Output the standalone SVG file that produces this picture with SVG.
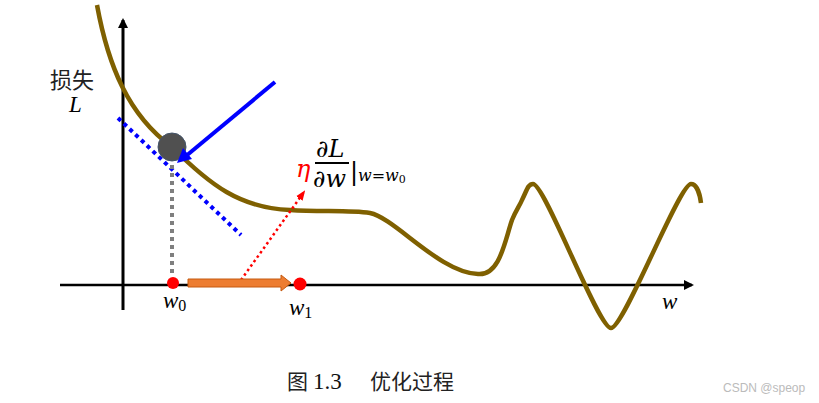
<svg xmlns="http://www.w3.org/2000/svg" width="819" height="403" viewBox="0 0 819 403">
<style>
.m{font-family:"Liberation Serif","DejaVu Serif",serif;font-style:italic;fill:#000}
.cj{font-family:"Noto Sans CJK SC",sans-serif;fill:#222}
</style>
<defs>
<marker id="ah" markerWidth="10" markerHeight="10" refX="8" refY="5" orient="auto" markerUnits="userSpaceOnUse"><path d="M0,0 L10,5 L0,10 z" fill="#000"/></marker>
<marker id="rh" markerWidth="10" markerHeight="10" refX="8" refY="5" orient="auto" markerUnits="userSpaceOnUse"><path d="M0,1 L10,5 L0,9 z" fill="#f00"/></marker>
</defs>
<rect width="819" height="403" fill="#fff"/>
<g id="axes">
<line x1="123" y1="310" x2="123" y2="20" stroke="#000" stroke-width="3" marker-end="url(#ah)"/>
<line x1="60" y1="285" x2="692" y2="285" stroke="#000" stroke-width="2.5" marker-end="url(#ah)"/>
</g>
<g id="curve">
<path d="M97,5 C108,65 128,115 172,147 C210,185 240,208 290,210 C320,212 350,210 370,213 C395,218 440,273 478,274 C500,276 505,240 512,220 C516,210 520,205 522,200 C527,190 528,184 533,184 C545,184 598,328 611,328 C624,328 679,184 691,184 C697,184 700,195 701,203" fill="none" stroke="#7f6000" stroke-width="4.5"/>
</g>
<g id="tangent">
<line x1="118" y1="118" x2="241" y2="235" stroke="#00f" stroke-width="4" stroke-dasharray="4,4"/>
</g>
<g id="ball">
<circle cx="172" cy="147" r="14" fill="#505050" stroke="#44546a" stroke-width="1"/>
</g>
<g id="connectors">
<line x1="275" y1="82" x2="186" y2="156" stroke="#00f" stroke-width="4"/>
<path d="M177,163 L183,148 L192,159 z" fill="#00f"/>
<line x1="172" y1="165" x2="172" y2="277" stroke="#7f7f7f" stroke-width="4" stroke-dasharray="4,4"/>
<line x1="241" y1="280" x2="304" y2="192" stroke="#f00" stroke-width="2.5" stroke-dasharray="2.5,3" marker-end="url(#rh)"/>
<path d="M188,279 L281,279 L281,275 L291,283 L281,291 L281,287 L188,287 z" fill="#ed7d31" stroke="#c55a11" stroke-width="1"/>
</g>
<g id="w0">
<circle cx="173" cy="283" r="6" fill="#f00"/>
<text x="163" y="308" class="m" font-size="23">w<tspan font-size="16" dy="3" font-style="normal">0</tspan></text>
</g>
<g id="w1">
<circle cx="300" cy="284" r="6.5" fill="#f00"/>
<text x="289" y="315" class="m" font-size="23">w<tspan font-size="16" dy="3" font-style="normal">1</tspan></text>
</g>
<g id="labels">
<text x="50" y="88" class="cj" font-size="22">损失</text>
<text x="69" y="112" class="m" font-size="23">L</text>
<text x="662" y="309" class="m" font-size="23">w</text>
<text x="296" y="177" font-family="DejaVu Serif,serif" font-style="italic" font-size="24" fill="#f00">η</text>
<text x="316" y="157" font-family="DejaVu Serif,serif" font-style="italic" font-size="24">∂L</text>
<line x1="315" y1="163" x2="349" y2="163" stroke="#000" stroke-width="1.8"/>
<text x="313" y="187" font-family="DejaVu Serif,serif" font-style="italic" font-size="24">∂w</text>
<text x="350" y="180" font-family="DejaVu Sans,sans-serif" font-size="24">|</text>
<text x="358" y="181" font-family="DejaVu Serif,serif" font-style="italic" font-size="16">w<tspan font-style="normal">=</tspan>w<tspan font-size="11" dy="2" font-style="normal">0</tspan></text>
</g>
<g id="caption">
<text x="287" y="389" class="cj" font-size="21" fill="#111">图</text>
<text x="313" y="389" font-family="Liberation Serif,serif" font-size="23" fill="#111">1.3</text>
<text x="370" y="389" class="cj" font-size="21" fill="#111">优化过程</text>
<text x="723" y="392" font-family="Liberation Sans,sans-serif" font-size="12" fill="#bbb">CSDN @speop</text>
</g>
</svg>
